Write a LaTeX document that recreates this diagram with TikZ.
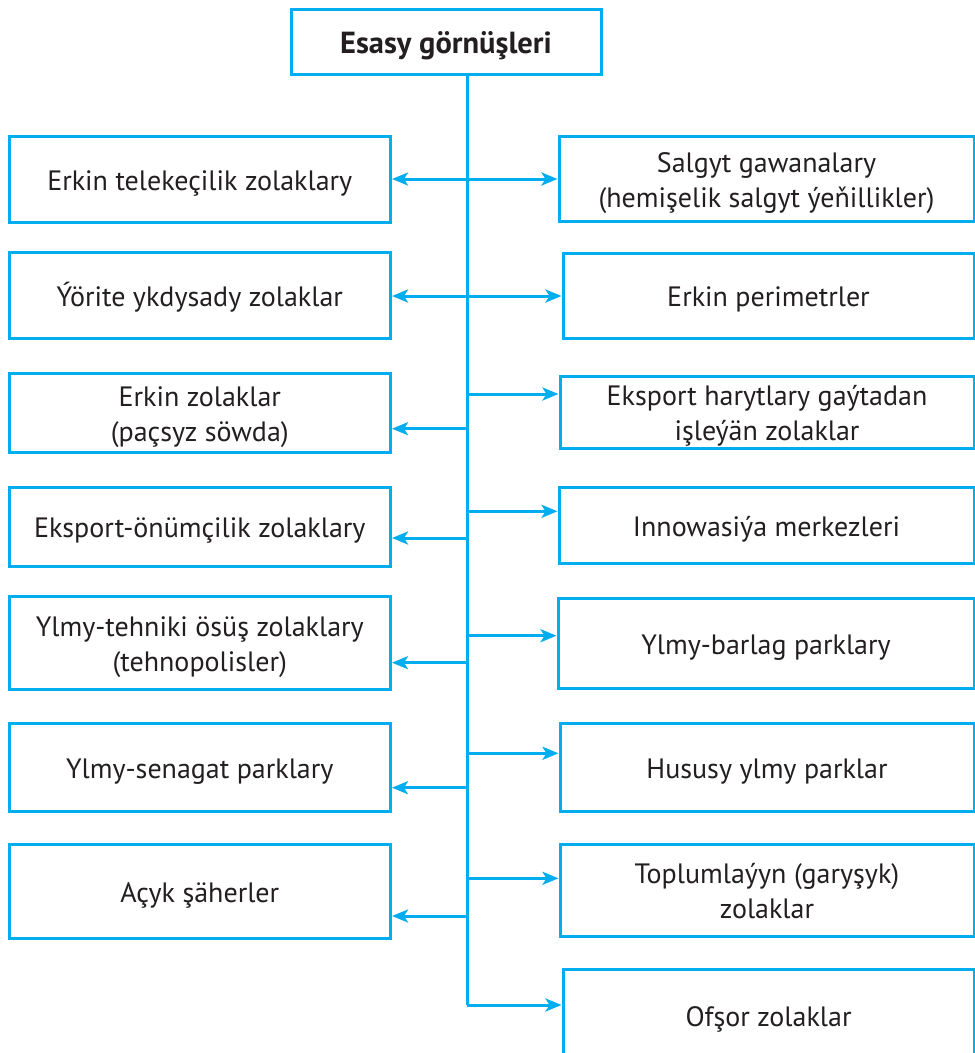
\documentclass[tikz,border=0pt]{standalone}
\usepackage{fontspec}
\setmainfont{PT Sans}
\usetikzlibrary{arrows.meta}
\definecolor{cyanline}{HTML}{00AEEF}
\definecolor{txt}{HTML}{231F20}
\newcommand\boxtext[2][4pt]{\raisebox{-#1}[\height][\depth]{\begin{tabular}{@{}c@{}}#2\end{tabular}}}
\tikzset{
  box/.style={draw=cyanline, line width=3pt, rectangle, inner sep=0pt, text=txt,
    font=\fontsize{28}{35}\selectfont},
  titlebox/.style={box, font=\bfseries\fontsize{30.5}{35}\selectfont},
  trunk/.style={draw=cyanline, line width=3pt},
  arr/.style={draw=cyanline, line width=3pt, -{Stealth[length=16pt,width=13pt,inset=4pt]}},
  biarr/.style={draw=cyanline, line width=3pt, {Stealth[length=16pt,width=13pt,inset=4pt]}-{Stealth[length=16pt,width=13pt,inset=4pt]}},
}
\begin{document}
\begin{tikzpicture}[x=1pt,y=-1pt]
\path[use as bounding box] (0,0) rectangle (975,1053);
\clip (0,0) rectangle (975,1053);
\fill[white] (0,0) rectangle (975,1053);
% top
\node[titlebox, minimum width=310pt, minimum height=65pt] (top) at (446,41.5) {\boxtext[5pt]{Esasy görnüşleri}};
% left boxes
\node[box, minimum width=381.5pt, minimum height=86pt] (l1) at (199.75,179) {\boxtext{Erkin telekeçilik zolaklary}};
\node[box, minimum width=381.5pt, minimum height=86pt] (l2) at (199.75,295) {\boxtext{Ýörite ykdysady zolaklar}};
\node[box, minimum width=381.5pt, minimum height=79pt] (l3) at (199.75,412.5) {\boxtext{Erkin zolaklar\\(paçsyz söwda)}};
\node[box, minimum width=381.5pt, minimum height=79pt] (l4) at (199.75,526.5) {\boxtext{Eksport-önümçilik zolaklary}};
\node[box, minimum width=381.5pt, minimum height=93pt] (l5) at (199.75,642.5) {\boxtext{Ylmy-tehniki ösüş zolaklary\\(tehnopolisler)}};
\node[box, minimum width=381.5pt, minimum height=88pt] (l6) at (199.75,767) {\boxtext{Ylmy-senagat parklary}};
\node[box, minimum width=381.5pt, minimum height=94pt] (l7) at (199.75,891) {\boxtext{Açyk şäherler}};
% right boxes
\node[box, minimum width=415pt, minimum height=85pt] (r1) at (766.5,178.5) {\boxtext{Salgyt gawanalary\\(hemişelik salgyt ýeňillikler)}};
\node[box, minimum width=411pt, minimum height=85pt] (r2) at (768.5,295.5) {\boxtext{Erkin perimetrler}};
\node[box, minimum width=414pt, minimum height=72pt] (r3) at (767,412) {\boxtext{Eksport harytlary gaýtadan\\işleýän zolaklar}};
\node[box, minimum width=415pt, minimum height=76pt] (r4) at (766.5,525) {\boxtext{Innowasiýa merkezleri}};
\node[box, minimum width=416pt, minimum height=90pt] (r5) at (766,643) {\boxtext{Ylmy-barlag parklary}};
\node[box, minimum width=414pt, minimum height=88pt] (r6) at (767,767) {\boxtext{Hususy ylmy parklar}};
\node[box, minimum width=414pt, minimum height=92pt] (r7) at (767,890) {\boxtext{Toplumlaýyn (garyşyk)\\zolaklar}};
\node[box, minimum width=411pt, minimum height=92pt] (r8) at (768.5,1015) {\boxtext{Ofşor zolaklar}};
% trunk coordinates
\coordinate (t0) at (467.3,74);
\coordinate (a1) at (467.3,179);
\coordinate (a2) at (467.3,296);
\coordinate (b3) at (467.3,394);
\coordinate (c3) at (467.3,428.7);
\coordinate (b4) at (467.3,511.3);
\coordinate (c4) at (467.3,538);
\coordinate (b5) at (467.3,635.7);
\coordinate (c5) at (467.3,662.7);
\coordinate (b6) at (467.3,753.3);
\coordinate (c6) at (467.3,787.7);
\coordinate (b7) at (467.3,878.3);
\coordinate (c7) at (467.3,916);
\coordinate (b8) at (467.3,1005);
% trunk and final arrow
\draw[trunk] (t0 |- top.south) -- (b8);
\draw[arr] (b8) -- (b8 -| r8.west);
% bidirectional
\draw[biarr] (a1 -| l1.east) -- (a1 -| r1.west);
\draw[biarr] (a2 -| l2.east) -- (a2 -| r2.west);
% right arrows
\draw[arr] (b3) -- (b3 -| r3.west);
\draw[arr] (b4) -- (b4 -| r4.west);
\draw[arr] (b5) -- (b5 -| r5.west);
\draw[arr] (b6) -- (b6 -| r6.west);
\draw[arr] (b7) -- (b7 -| r7.west);
% left arrows
\draw[arr] (c3) -- (c3 -| l3.east);
\draw[arr] (c4) -- (c4 -| l4.east);
\draw[arr] (c5) -- (c5 -| l5.east);
\draw[arr] (c6) -- (c6 -| l6.east);
\draw[arr] (c7) -- (c7 -| l7.east);
\end{tikzpicture}
\end{document}
